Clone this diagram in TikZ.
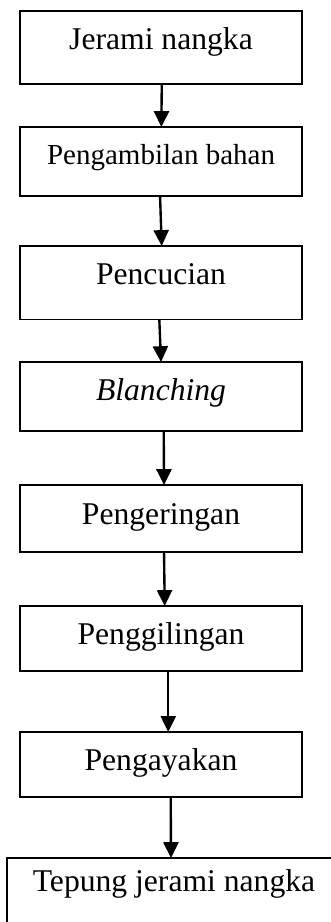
\documentclass[tikz,border=0pt]{standalone}
\usepackage{fontspec}
\setmainfont{Liberation Serif}
\usepackage{tikz}
\usetikzlibrary{positioning,arrows.meta}

\begin{document}
\begin{tikzpicture}[
    every node/.style={font=\fontsize{12}{14}\selectfont},
    box/.style={rectangle, draw=black, line width=0.6pt, inner sep=0pt, outer sep=0pt, minimum width=3.76cm, align=center, text height=0.65em, text depth=0.22em},
    arrow/.style={-{Triangle[width=5.7pt,length=6pt]}, line width=0.9pt, color=black}
  ]
    \useasboundingbox (0,0) rectangle (4.4,-12.293);

    % Process steps (top to bottom)
    \node[box, minimum height=0.98cm, text height=0.38em] (ambil) at (2.147,-0.633) {Jerami nangka};
    \node[box, minimum height=0.92cm, text height=0.46em, font=\fontsize{11}{13}\selectfont] (bahan) at (2.147,-2.153) {Pengambilan bahan};
    \node[box, minimum height=0.98cm, text height=0.38em] (cuci) at (2.147,-3.769) {Pencucian};
    \node[box, minimum height=0.92cm, text height=0.54em] (blanch) at (2.147,-5.287) {\textit{Blanching}};
    \node[box, minimum height=0.893cm] (kering) at (2.147,-6.913) {Pengeringan};
    \node[box, minimum height=0.867cm] (giling) at (2.147,-8.513) {Penggilingan};
    \node[box, minimum height=0.867cm] (ayak) at (2.147,-10.193) {Pengayakan};

    % Final product, runs off the page edge
    \node[box, anchor=north, minimum width=4.453cm, inner ysep=5.8pt, text height=0.683em, text depth=0.4cm] (tepung) at (2.32,-11.44) {Tepung jerami nangka};

    % Arrows between steps
    \draw[arrow] ([xshift=0.01cm]ambil.south) -- ([xshift=0.004cm]bahan.north);
    \draw[arrow] ([xshift=-0.013cm]bahan.south) -- ([xshift=0.009cm]cuci.north);
    \draw[arrow] ([xshift=-0.023cm]cuci.south) -- (blanch.north);
    \draw[arrow] ([xshift=0.036cm]blanch.south) -- ([xshift=0.04cm]kering.north);
    \draw[arrow] ([xshift=0.04cm]kering.south) -- ([xshift=0.049cm]giling.north);
    \draw[arrow] ([xshift=0.097cm]giling.south) -- ([xshift=0.097cm]ayak.north);
    \draw[arrow] ([xshift=0.129cm]ayak.south) -- ([xshift=-0.04cm]tepung.north);

  \end{tikzpicture}
\end{document}
